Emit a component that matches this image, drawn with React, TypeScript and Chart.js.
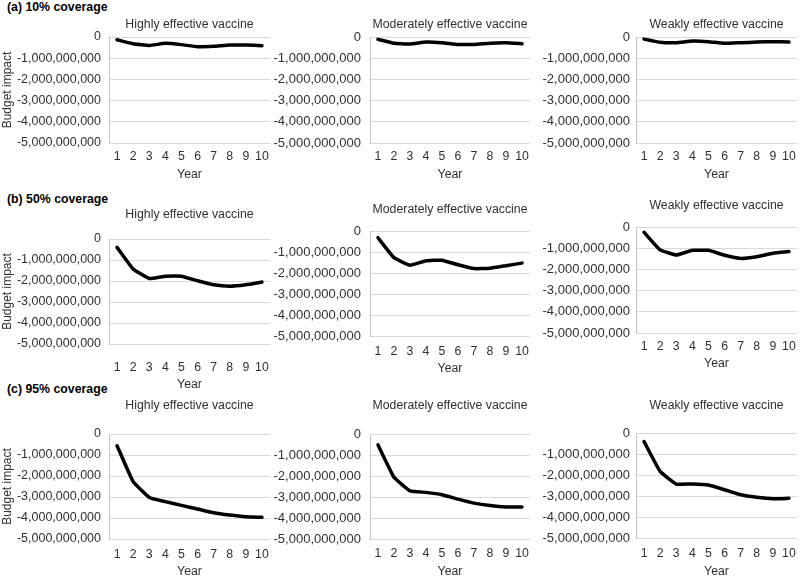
import React, { useEffect, useRef } from 'react';
import { Chart, registerables } from 'chart.js';

Chart.register(...registerables);

// ---------- data ----------
const years = ['1', '2', '3', '4', '5', '6', '7', '8', '9', '10'];
const vaccineTitles = ['Highly effective vaccine', 'Moderately effective vaccine', 'Weakly effective vaccine'];
const coverageLabels = ['(a) 10% coverage', '(b) 50% coverage', '(c) 95% coverage'];
const yTickValues = [0, -1000000000, -2000000000, -3000000000, -4000000000, -5000000000];
const xAxisTitle = 'Year';
const yAxisTitle = 'Budget impact';

const high10 = [-0.13e9, -0.32e9, -0.40e9, -0.30e9, -0.36e9, -0.46e9, -0.44e9, -0.38e9, -0.38e9, -0.41e9];
const moderate10 = [-0.11e9, -0.29e9, -0.33e9, -0.24e9, -0.27e9, -0.35e9, -0.35e9, -0.29e9, -0.27e9, -0.32e9];
const weak10 = [-0.10e9, -0.25e9, -0.27e9, -0.19e9, -0.22e9, -0.30e9, -0.27e9, -0.24e9, -0.22e9, -0.24e9];

const high50 = [-0.40e9, -1.43e9, -1.88e9, -1.77e9, -1.77e9, -1.99e9, -2.18e9, -2.25e9, -2.18e9, -2.05e9];
const moderate50 = [-0.32e9, -1.27e9, -1.63e9, -1.42e9, -1.39e9, -1.61e9, -1.79e9, -1.77e9, -1.65e9, -1.53e9];
const weak50 = [-0.25e9, -1.08e9, -1.32e9, -1.10e9, -1.10e9, -1.33e9, -1.48e9, -1.40e9, -1.24e9, -1.16e9];

const high95 = [-0.56e9, -2.27e9, -3.02e9, -3.22e9, -3.40e9, -3.57e9, -3.75e9, -3.86e9, -3.94e9, -3.97e9];
const moderate95 = [-0.52e9, -2.06e9, -2.71e9, -2.78e9, -2.89e9, -3.10e9, -3.29e9, -3.41e9, -3.48e9, -3.48e9];
const weak95 = [-0.41e9, -1.83e9, -2.43e9, -2.43e9, -2.48e9, -2.70e9, -2.94e9, -3.06e9, -3.13e9, -3.11e9];

const seriesRows = [
  [high10, moderate10, weak10],
  [high50, moderate50, weak50],
  [high95, moderate95, weak95],
];

// ---------- layout (positions, not data) ----------
type Pos = {
  canvasLeft: number; plotLeft: number; plotRight: number; plotTop: number; plotBottom: number;
  titleY: number; tickY: number; yearY: number;
};
const colX = [
  { canvasLeft: 0, plotLeft: 109, plotRight: 270 },
  { canvasLeft: 268, plotLeft: 370, plotRight: 530 },
  { canvasLeft: 534, plotLeft: 636, plotRight: 797 },
];
const rowY = [
  [
    { plotTop: 37, plotBottom: 143, titleY: 24, tickY: 157, yearY: 175 },
    { plotTop: 37, plotBottom: 143, titleY: 24, tickY: 157, yearY: 175 },
    { plotTop: 37, plotBottom: 143, titleY: 24, tickY: 157, yearY: 175 },
  ],
  [
    { plotTop: 239, plotBottom: 344, titleY: 214, tickY: 368, yearY: 385 },
    { plotTop: 231, plotBottom: 336, titleY: 209, tickY: 352, yearY: 369 },
    { plotTop: 227, plotBottom: 333, titleY: 205, tickY: 347, yearY: 364 },
  ],
  [
    { plotTop: 434, plotBottom: 539, titleY: 405, tickY: 555, yearY: 572 },
    { plotTop: 434, plotBottom: 539, titleY: 405, tickY: 554, yearY: 572 },
    { plotTop: 433, plotBottom: 538, titleY: 405, tickY: 554, yearY: 572 },
  ],
];
const rowLabelY = [7, 199, 389];
const yLabelPad = [8, 9, 6];
const yTickFontSize = [12.5, 13, 13];

const FONT = "'Liberation Sans', Arial, sans-serif";
const TEXT = '#303030';
const GRID = '#d9d9d9';
const AXIS = '#c4c4c4';
const FS = 12.3;
const LH = FS * 1.2;

function geom(p: Pos) {
  const top = Math.round(p.titleY - LH / 2);
  const bottom = Math.round(p.yearY + LH / 2);
  return {
    left: p.canvasLeft,
    top,
    w: p.plotRight - p.canvasLeft,
    h: bottom - top,
    yW: p.plotLeft - p.canvasLeft,
    titlePad: p.plotTop - top - LH,
    xH: bottom - p.plotBottom,
    xTick: p.tickY - p.plotBottom - LH / 2,
  };
}

function Panel({ values, title, pos, col }: { values: number[]; title: string; pos: Pos; col: number }) {
  const ref = useRef<HTMLCanvasElement>(null);
  const g = geom(pos);
  useEffect(() => {
    const chart = new Chart(ref.current as HTMLCanvasElement, {
      type: 'line',
      data: {
        labels: years,
        datasets: [
          {
            data: values,
            borderColor: '#000000',
            borderWidth: 3.5,
            pointRadius: 0,
            tension: 0.1,
            fill: false,
            borderJoinStyle: 'round',
            borderCapStyle: 'round',
          },
        ],
      },
      options: {
        responsive: false,
        animation: false,
        devicePixelRatio: 1,
        layout: { padding: 0 },
        plugins: {
          legend: { display: false },
          tooltip: { enabled: false },
          title: {
            display: true,
            text: title,
            fullSize: false,
            color: TEXT,
            font: { family: FONT, size: FS, weight: 'normal' },
            padding: { top: 0, bottom: g.titlePad },
          },
        },
        scales: {
          x: {
            type: 'category',
            offset: true,
            grid: { display: false, drawTicks: true, tickLength: g.xTick },
            border: { display: false },
            ticks: { padding: 0, color: TEXT, font: { family: FONT, size: FS }, maxRotation: 0, autoSkip: false },
            title: { display: true, text: xAxisTitle, padding: 0, color: TEXT, font: { family: FONT, size: FS } },
            afterFit: (s: any) => {
              s.height = g.xH;
            },
          },
          y: {
            min: -5000000000,
            max: 0,
            afterBuildTicks: (s: any) => {
              s.ticks = yTickValues.map((v) => ({ value: v }));
            },
            ticks: {
              padding: yLabelPad[col],
              color: TEXT,
              font: { family: FONT, size: yTickFontSize[col] },
              callback: (v: any) => Number(v).toLocaleString('en-US'),
            },
            grid: { color: GRID, drawTicks: false, lineWidth: 1 },
            border: { display: true, color: AXIS, width: 1 },
            title: {
              display: col === 0,
              text: yAxisTitle,
              padding: 0,
              color: TEXT,
              font: { family: FONT, size: 12 },
            },
            afterFit: (s: any) => {
              s.width = g.yW;
            },
          },
        },
      },
    } as any);
    return () => chart.destroy();
  }, []);
  return (
    <canvas
      ref={ref}
      width={g.w}
      height={g.h}
      style={{ position: 'absolute', left: g.left, top: g.top, width: g.w, height: g.h }}
    />
  );
}

export default function App() {
  const panels: React.ReactNode[] = [];
  seriesRows.forEach((row, r) => {
    row.forEach((values, c) => {
      const pos: Pos = { ...colX[c], ...rowY[r][c] };
      panels.push(<Panel key={`${r}-${c}`} values={values} title={vaccineTitles[c]} pos={pos} col={c} />);
    });
  });
  return (
    <div
      style={{
        position: 'fixed',
        left: 0,
        top: 0,
        width: 800,
        height: 578,
        background: '#ffffff',
        overflow: 'hidden',
      }}
    >
      {coverageLabels.map((t, i) => (
        <div
          key={t}
          style={{
            position: 'absolute',
            left: 7,
            top: rowLabelY[i] - 7.4,
            font: `bold 12.3px ${FONT}`,
            lineHeight: '14.8px',
            color: '#000',
            whiteSpace: 'nowrap',
          }}
        >
          {t}
        </div>
      ))}
      {panels}
    </div>
  );
}
